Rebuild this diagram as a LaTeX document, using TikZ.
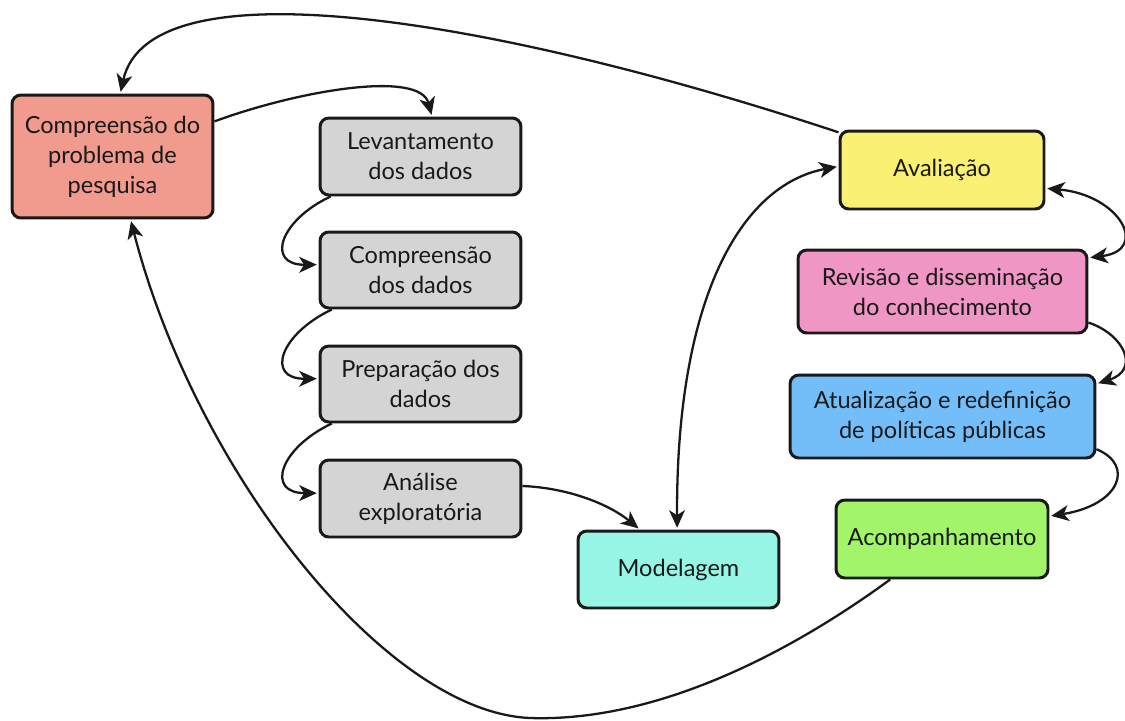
\documentclass[tikz,border=0pt]{standalone}
\usepackage{fontspec}
\setmainfont{Lato}
\usetikzlibrary{arrows.meta}
\definecolor{cprob}{RGB}{241,154,142}
\definecolor{cgray}{RGB}{212,212,212}
\definecolor{cmod}{RGB}{150,245,228}
\definecolor{caval}{RGB}{250,240,115}
\definecolor{crev}{RGB}{240,150,196}
\definecolor{catu}{RGB}{115,190,248}
\definecolor{cacomp}{RGB}{162,245,104}
\definecolor{ink}{RGB}{25,25,25}
\begin{document}
\begin{tikzpicture}[x=0.02cm,y=-0.02cm,
  box/.style={draw=ink, line width=1.7pt, rounded corners=5pt, align=center,
    font=\fontsize{13.4}{17}\selectfont, text=ink, inner sep=0pt},
  tip/.tip={Stealth[length=10pt,width=9pt,inset=2.8pt]},
  arr/.style={draw=ink, line width=1.3pt, -tip, shorten >=1pt},
  twoway/.style={draw=ink, line width=1.3pt, tip-tip, shorten >=1pt, shorten <=1pt}]
\useasboundingbox (0,0) rectangle (1125,720);

% process steps
\node[box, fill=cprob, minimum width=4.02cm, minimum height=2.46cm] (prob) at (112.5,156.5)
  {Compreensão do\\problema de\\pesquisa};
\node[box, fill=cgray, minimum width=4.02cm, minimum height=1.54cm] (lev) at (420.5,156.5)
  {Levantamento\\dos dados};
\node[box, fill=cgray, minimum width=4.02cm, minimum height=1.52cm] (cdad) at (420.5,270)
  {Compreensão\\dos dados};
\node[box, fill=cgray, minimum width=4.02cm, minimum height=1.52cm] (prep) at (420.5,384)
  {Preparação dos\\dados};
\node[box, fill=cgray, minimum width=4.02cm, minimum height=1.54cm] (anal) at (420.5,498.5)
  {Análise\\exploratória};
\node[box, fill=cmod, minimum width=4.02cm, minimum height=1.54cm] (mod) at (678.5,569.5)
  {Modelagem};
\node[box, fill=caval, minimum width=4.08cm, minimum height=1.56cm] (aval) at (942,170)
  {Avaliação};
\node[box, fill=crev, minimum width=5.78cm, minimum height=1.66cm] (rev) at (942.5,291.5)
  {Revisão e disseminação\\do conhecimento};
\node[box, fill=catu, minimum width=6.1cm, minimum height=1.66cm] (atu) at (942.5,416.5)
  {Atualização e redefinição\\de políticas públicas};
\node[box, fill=cacomp, minimum width=4.24cm, minimum height=1.56cm] (acomp) at (942,539)
  {Acompanhamento};

% connectors
\draw[arr] (aval.160) .. controls (500,20) and (150,-40) .. (prob.83);
\draw[arr] (prob.19) .. controls (300,90) and (420,70) .. (lev.74);
\draw[arr] (lev.204) .. controls (280,220) and (265,265) .. (cdad.177);
\draw[arr] (cdad.204) .. controls (280,334) and (265,379) .. (prep.177);
\draw[arr] (prep.204) .. controls (280,448) and (265,493) .. (anal.177);
\draw[arr] (anal.7) .. controls (570,488) and (610,505) .. (mod.134);
\draw[twoway] (mod.92) .. controls (676,300) and (740,185) .. (aval.178);
\draw[twoway] (aval.-10) .. controls (1120,195) and (1150,250) .. (rev.13);
\draw[arr] (rev.-12) .. controls (1125,335) and (1140,370) .. (atu.12.5);
\draw[arr] (atu.-12) .. controls (1135,465) and (1120,505) .. (acomp.12);
\draw[arr] (acomp.218) .. controls (780,660) and (650,722) .. (530,718)
  .. controls (385,712) and (195,470) .. (prob.-74);
\end{tikzpicture}
\end{document}
